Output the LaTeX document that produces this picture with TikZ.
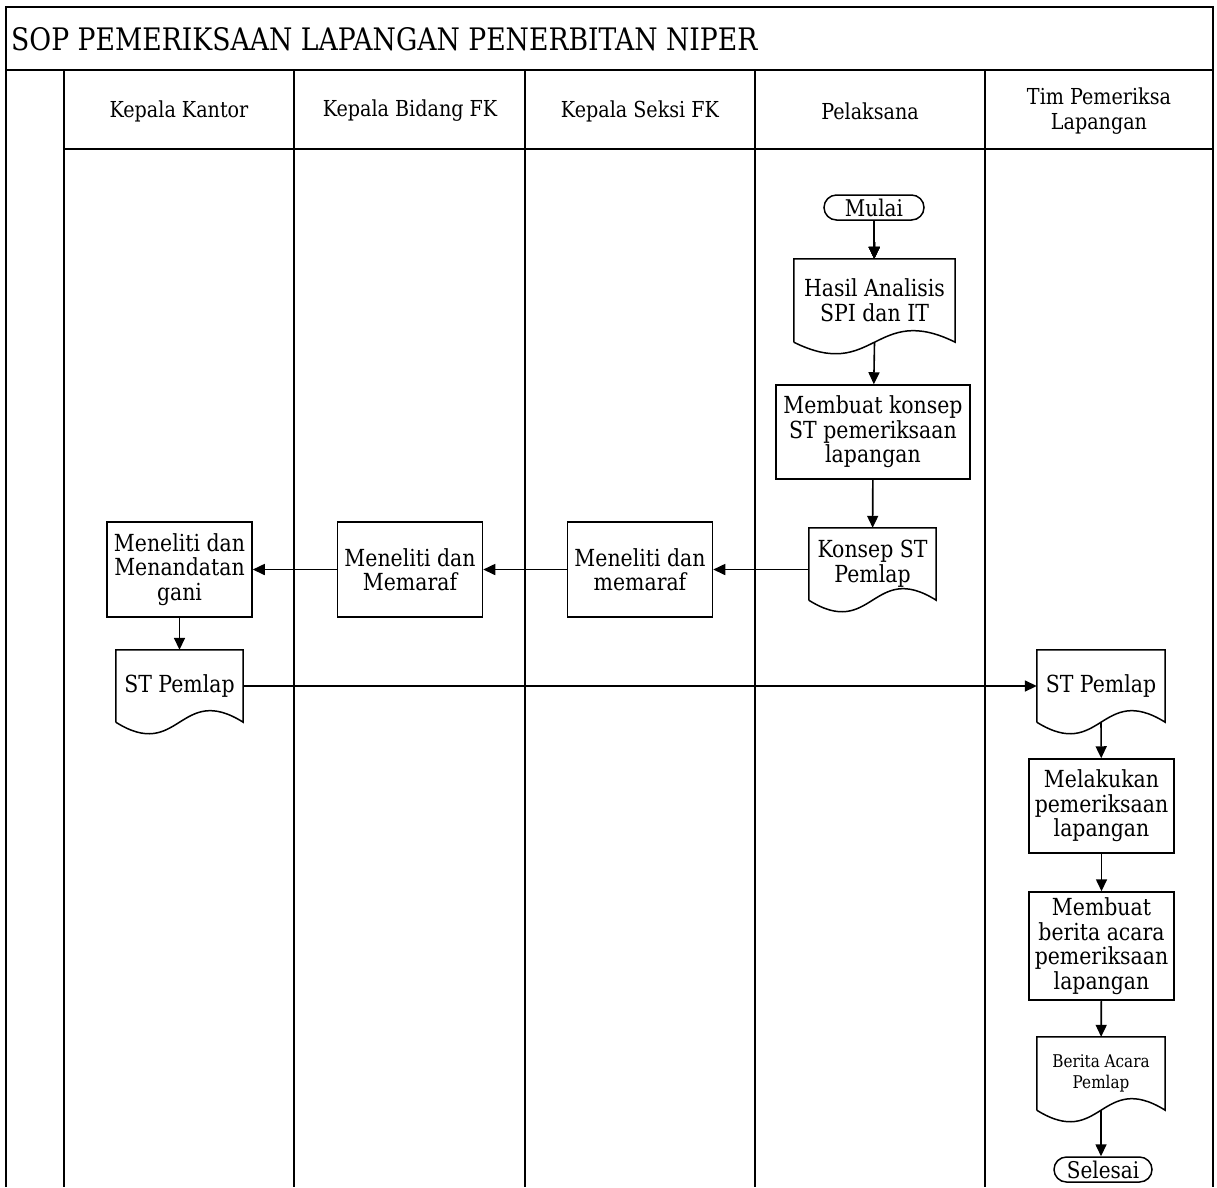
\documentclass[tikz,border=0pt]{standalone}
\usepackage{fontspec}
\setmainfont{DejaVu Serif}[FakeStretch=0.87]
\newfontfamily\titlefont{DejaVu Serif}[FakeStretch=0.86]
\usetikzlibrary{calc,positioning,arrows.meta}

% document symbol: straight top and sides, wavy bottom edge
\newcommand{\docwave}[1]{\draw[docline] (#1.south west) -- (#1.north west) -- (#1.north east) -- (#1.south east) .. controls ($(#1.south west)!0.5!(#1.south east)+(0,-40)$) and ($(#1.south west)!0.5!(#1.south east)+(0,40)$) .. (#1.south west);}

\begin{document}
\begin{tikzpicture}[x=1pt,y=-1pt,
    frame/.style={line width=2pt},
    lanehead/.style={align=center, font=\fontsize{22}{25}\selectfont},
    stepnode/.style={draw, line width=1.5pt, inner sep=0pt, align=center, font=\fontsize{23.5}{24.5}\selectfont},
    docnode/.style={inner sep=0pt, align=center, font=\fontsize{23.5}{25}\selectfont},
    docline/.style={line width=1.5pt},
    termnode/.style={draw, line width=1.5pt, rounded corners=12.5pt, inner sep=0pt, minimum height=25pt, align=center, font=\fontsize{23}{24.5}\selectfont},
    arr/.style={line width=1.6pt, -{Triangle[length=12pt,width=11pt]}}]
    \useasboundingbox (0,0) rectangle (1217,1187);
    % frame, title row and lanes
    \draw[frame] (6,1187) -- (6,7) -- (1213,7) -- (1213,1187);
    \draw[frame] (6,70) -- (1213,70);
    \draw[frame] (64,149) -- (1213,149);
    \foreach \x in {64,294,525,755,985} \draw[frame] (\x,70) -- (\x,1187);
    \node[anchor=west, inner sep=0pt, font=\titlefont\fontsize{31}{34}\selectfont] (title) at (11,39) {SOP PEMERIKSAAN LAPANGAN PENERBITAN NIPER};
    \foreach \x/\n/\t in {179/kk/{Kepala Kantor}, 410/kb/{Kepala Bidang FK}, 640/ks/{Kepala Seksi FK}, 870/pl/{Pelaksana}, 1099/tp/{Tim Pemeriksa\\Lapangan}}
        \node[lanehead] (head-\n) at (\x,111) {\t};
    % Pelaksana
    \node[termnode, minimum width=100pt] (mulai) at (874,207.5) {Mulai};
    \node[docnode, minimum width=161pt, minimum height=83pt] (hasil) at (874.5,300.5) {Hasil Analisis\\SPI dan IT};
    \node[stepnode, minimum width=194pt, minimum height=94pt] (buat) at (873,432) {Membuat konsep\\ST pemeriksaan\\lapangan};
    \node[docnode, minimum width=127pt, minimum height=72pt] (konsep) at (872.5,564) {Konsep ST\\Pemlap};
    % Kepala Seksi, Kepala Bidang, Kepala Kantor
    \node[stepnode, minimum width=145pt, minimum height=95pt] (seksi) at (640,569.5) {Meneliti dan\\memaraf};
    \node[stepnode, minimum width=145pt, minimum height=95pt] (bidang) at (410,569.5) {Meneliti dan\\Memaraf};
    \node[stepnode, minimum width=145pt, minimum height=95pt] (kantor) at (179.5,569.5) {Meneliti dan\\Menandatan\\gani};
    \node[docnode, minimum width=127pt, minimum height=72pt] (stk) at (179.5,686) {ST Pemlap};
    % Tim Pemeriksa Lapangan
    \node[docnode, minimum width=128pt, minimum height=72pt] (stt) at (1101,686) {ST Pemlap};
    \node[stepnode, minimum width=145pt, minimum height=94pt] (lakukan) at (1101.5,806) {Melakukan\\pemeriksaan\\lapangan};
    \node[stepnode, minimum width=145pt, minimum height=108pt] (bap) at (1101.5,946) {Membuat\\berita acara\\pemeriksaan\\lapangan};
    \node[docnode, minimum width=128pt, minimum height=73pt, font=\fontsize{17.5}{21}\selectfont] (berita) at (1101,1073.5) {Berita Acara\\Pemlap};
    \node[termnode, minimum width=98pt] (selesai) at (1103,1169.5) {Selesai};
    \foreach \d in {hasil,konsep,stk,stt,berita} \docwave{\d}
    % connectors
    \draw[arr] (mulai) -- (hasil);
    \draw[arr] (hasil.south) -- (buat);
    \draw[arr] (buat) -- (konsep);
    \draw[arr] (konsep.west |- seksi.east) -- (seksi.east);
    \draw[arr] (seksi) -- (bidang);
    \draw[arr] (bidang) -- (kantor);
    \draw[arr] (kantor) -- (stk);
    \draw[arr] (stk) -- (stt);
    \draw[arr] (stt.south) -- (lakukan);
    \draw[arr] (lakukan) -- (bap);
    \draw[arr] (bap) -- (berita);
    \draw[arr] (berita.south) -- (berita.south |- selesai.north);
\end{tikzpicture}
\end{document}
